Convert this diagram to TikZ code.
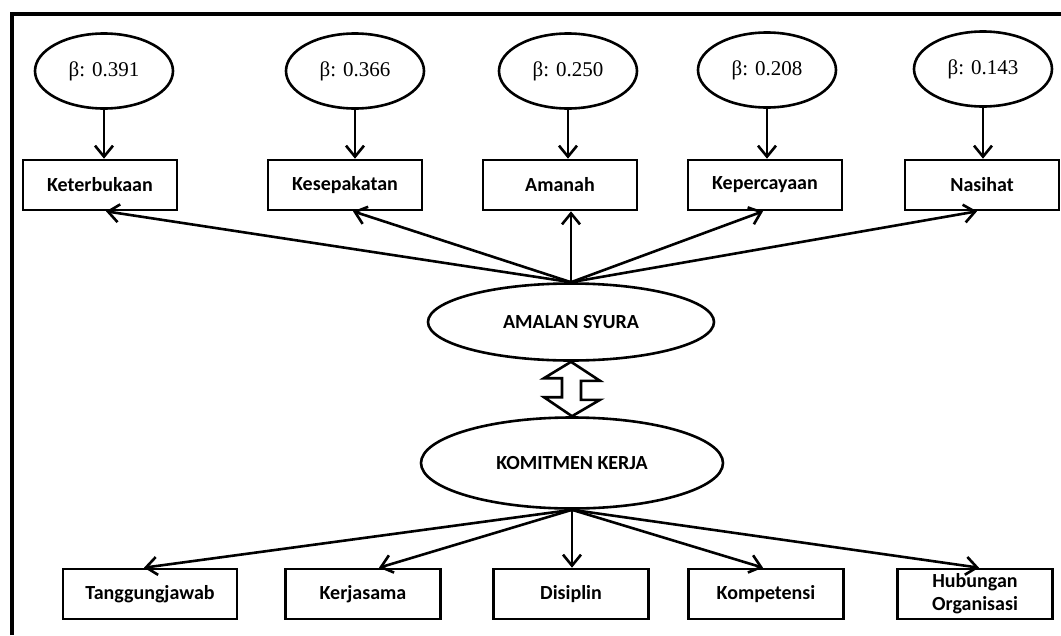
\documentclass[tikz,border=0pt]{standalone}
\usepackage{fontspec}
\setmainfont{Carlito}
\newfontfamily\betafont{Liberation Serif}
\usetikzlibrary{shapes.geometric, arrows.meta}

\begin{document}
\begin{tikzpicture}[>={Straight Barb[length=11pt, width=18pt]}, x=1pt, y=-1pt]
    \useasboundingbox (0,0) rectangle (1061,635);
    \tikzset{BetaStyle/.style = {shape          = ellipse,
                                 minimum width  = 138pt,
                                 minimum height = 75pt,
                                 inner sep      = 0pt,
                                 line width     = 2.6pt,
                                 font           = \betafont\fontsize{21}{25}\selectfont,
                                 draw}}
    \tikzset{BoxStyle/.style = {shape          = rectangle,
                                minimum width  = 154pt,
                                minimum height = 50pt,
                                inner sep      = 0pt,
                                line width     = 2.6pt,
                                align          = center,
                                font           = \bfseries\fontsize{20}{24}\selectfont,
                                draw}}
    \tikzset{FactorStyle/.style = {shape      = ellipse,
                                   inner sep  = 0pt,
                                   line width = 2.6pt,
                                   font       = \bfseries\fontsize{20}{24}\selectfont,
                                   draw}}
    \tikzset{EdgeStyle/.style = {->,
                                 line width = 2.6pt}}
    \draw[line width = 4pt] (12,635) -- (12,14) -- (1061,14);
    \node[BoxStyle] (Ket) at (100,185) {Keterbukaan};
    \node[BoxStyle] (Kes) at (345,185) {Kesepakatan};
    \node[BoxStyle] (Ama) at (560,185) {Amanah};
    \node[BoxStyle] (Kep) at (765,185) {Kepercayaan};
    \node[BoxStyle] (Nas) at (982,185) {Nasihat};
    \node[BetaStyle] (B1) at (104,71) {β: 0.391};
    \node[BetaStyle] (B2) at (355,71) {β: 0.366};
    \node[BetaStyle] (B3) at (568,71) {β: 0.250};
    \node[BetaStyle] (B4) at (767,70) {β: 0.208};
    \node[BetaStyle] (B5) at (983,69) {β: 0.143};
    \node[FactorStyle, minimum width = 286pt, minimum height = 77pt] (AS) at (571,322) {AMALAN SYURA};
    \node[FactorStyle, minimum width = 302pt, minimum height = 91pt] (KK) at (572,463) {KOMITMEN KERJA};
    \node[BoxStyle, minimum width = 174pt] (Tan) at (150,594) {Tanggungjawab};
    \node[BoxStyle, minimum width = 155pt] (Ker) at (363,594) {Kerjasama};
    \node[BoxStyle, minimum width = 155pt] (Dis) at (571,594) {Disiplin};
    \node[BoxStyle, minimum width = 155pt] (Kom) at (766,594) {Kompetensi};
    \node[BoxStyle, minimum width = 155pt,
          font = \bfseries\fontsize{20}{23}\selectfont] (Hub) at (975,594) {Hubungan\\Organisasi};
    \draw[EdgeStyle] (B1.south) -- (B1.south |- Ket.north);
    \draw[EdgeStyle] (B2.south) -- (B2.south |- Kes.north);
    \draw[EdgeStyle] (B3.south) -- (B3.south |- Ama.north);
    \draw[EdgeStyle] (B4.south) -- (B4.south |- Kep.north);
    \draw[EdgeStyle] (B5.south) -- (B5.south |- Nas.north);
    \draw[EdgeStyle] (AS.north) -- ([xshift = 6pt]Ket.south);
    \draw[EdgeStyle] (AS.north) -- ([xshift = 8pt]Kes.south);
    \draw[EdgeStyle] (AS.north) -- (AS.north |- Ama.south);
    \draw[EdgeStyle] (AS.north) -- ([xshift = -2pt]Kep.south);
    \draw[EdgeStyle] (AS.north) -- ([xshift = -5pt]Nas.south);
    \draw[line width = 2.6pt, line join = miter] (AS.south) -- ++(29,19) -- ++(-19,0) -- ++(0,19) -- ++(19,0)
        -- (KK.north) -- ++(-28,-19) -- ++(18,0) -- ++(0,-19) -- ++(-18,0) -- cycle;
    \draw[EdgeStyle] (KK.south) -- ([xshift = -6pt]Tan.north);
    \draw[EdgeStyle] (KK.south) -- ([xshift = 16pt]Ker.north);
    \draw[EdgeStyle] (KK.south) -- (KK.south |- Dis.north);
    \draw[EdgeStyle] (KK.south) -- ([xshift = -3pt]Kom.north);
    \draw[EdgeStyle] (KK.south) -- ([xshift = 4pt]Hub.north);
\end{tikzpicture}
\end{document}
